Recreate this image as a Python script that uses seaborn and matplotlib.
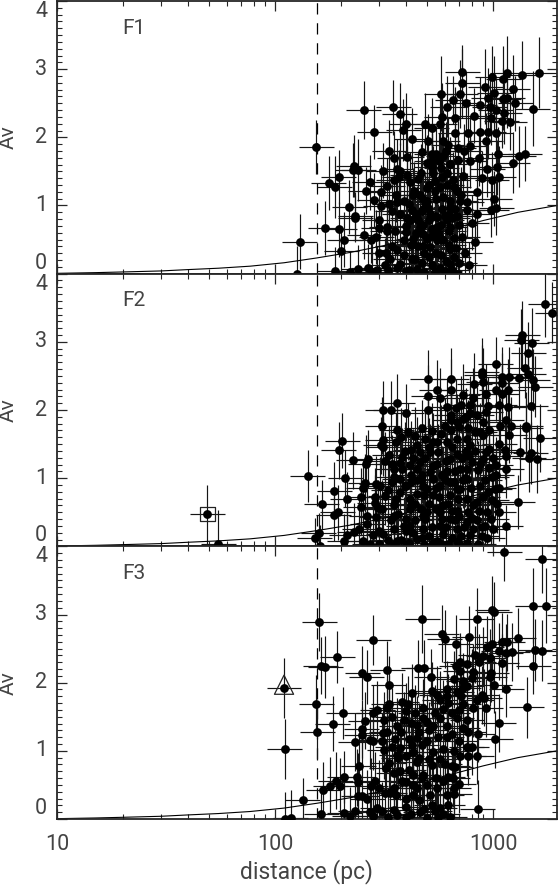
import numpy as np
import pandas as pd
import matplotlib
matplotlib.use("Agg")
import matplotlib.pyplot as plt
from matplotlib.ticker import NullFormatter
import seaborn as sns

# (distance pc, Av, Av error)
f1_points = [(1632,2.95,.52),(1359,2.91,.5),(1161,2.94,.55),(1116,2.86,.48),(994,2.89,.45),(722,2.96,.4),(722,2.79,.5),(921,2.74,.55),
(1231,2.71,.5),(1015,2.65,.55),(707,2.64,.5),(579,2.64,.55),(653,2.55,.35),(752,2.51,.45),(618,2.45,.45),(872,2.48,.4),(951,2.57,.45),
(1116,2.56,.45),(1165,2.58,.45),(1263,2.50,.4),(1521,2.42,.55),(967,2.45,.4),(1029,2.40,.45),(1124,2.35,.45),(348,2.44,.4),(255,2.40,.42),
(373,2.34,.45),(581,2.30,.5),(670,2.29,.45),(822,2.32,.4),(984,2.29,.4),(1096,2.24,.4),(1194,2.22,.4),(401,2.20,.45),(488,2.20,.45),
(524,2.13,.45),(571,2.20,.45),(387,2.11,.45),(286,2.08,.4),(670,2.06,.45),(770,2.07,.45),(872,2.08,.45),(951,2.08,.4),(1029,2.07,.45),
(423,1.98,.45),(501,1.94,.4),(588,1.95,.45),(622,1.89,.4),(925,1.95,.4),(155,1.86,.4),(335,1.80,.45),(694,1.84,.4),(784,1.87,.45),
(471,1.78,.4),(524,1.76,.4),(739,1.80,.4),(403,1.71,.45),(353,1.70,.4),(1403,1.76,.4),(1313,1.72,.45),(1236,1.63,.45),(1051,1.75,.4),
(866,1.69,.4),(230,1.58,.45),(227,1.52,.4),(241,1.52,.45),(313,1.51,.4),(361,1.53,.45),(374,1.51,.4),(524,1.66,.4),(635,1.61,.4),
(694,1.67,.4),(784,1.66,.4),(196,1.42,.4),(176,1.33,.4),(188,1.27,.45),(272,1.34,.4),(372,1.42,.4),(350,1.37,.4),(328,1.29,.4),
(416,1.34,.45),(454,1.39,.4),(532,1.47,.4),(581,1.42,.45),(731,1.44,.4),(887,1.40,.4),(1040,1.56,.4),(941,1.53,.4),(990,1.38,.4),
(1063,1.42,.45),(261,1.22,.35),(305,1.20,.4),(359,1.16,.4),(431,1.15,.4),(463,1.15,.4),(497,1.25,.4),(571,1.27,.4),(682,1.22,.4),
(843,1.20,.45),(286,1.08,.4),(305,.99,.4),(335,1.02,.4),(361,1.05,.4),(390,1.06,.4),(488,1.05,.4),(635,1.07,.4),(707,1.07,.4),
(1015,1.10,.4),(219,.98,.4),(233,.85,.35),(233,.81,.35),(344,.92,.4),(423,.94,.4),(479,.95,.4),(581,.95,.4),(635,.98,.4),(763,.94,.4),
(843,.88,.4),(984,.94,.4),(1036,.96,.4),(687,.85,.4),(301,.78,.4),(404,.81,.4),(454,.78,.4),(551,.83,.4),(613,.78,.4),(798,.75,.4),
(170,.67,.4),(197,.65,.4),(299,.67,.4),(325,.68,.4),(328,.63,.4),(354,.62,.4),(401,.61,.4),(463,.68,.4),(524,.66,.4),(625,.63,.4),
(256,.56,.35),(291,.54,.4),(275,.50,.35),(208,.50,.4),(390,.50,.4),(431,.51,.4),(497,.51,.4),(571,.53,.4),(663,.52,.4),(724,.54,.4),
(828,.46,.45),(130,.47,.4),(201,.33,.35),(323,.31,.4),(361,.35,.4),(431,.44,.4),(479,.41,.4),(635,.36,.4),(741,.30,.4),(337,.22,.4),
(374,.14,.4),(423,.22,.4),(514,.39,.4),(551,.49,.4),(778,.12,.35),(635,.14,.4),(188,.04,.35),(126,0,.4),(221,.03,.3),(241,.07,.35),
(267,.08,.35),(295,.06,.35),(320,.12,.4),(361,.09,.4),(401,.04,.4),(446,.07,.4),(524,.12,.4),(571,.09,.4),(694,0,.4),
(524,1.56,.4),(563,1.66,.4),(542,1.36,.4),(613,1.48,.4),(653,1.38,.4),(497,1.07,.4),(446,.88,.4),(514,.88,.4),(551,.68,.4),(479,.58,.4),
(416,.78,.4),(374,.88,.4),(635,.68,.4)]

f2_points = [(1739,3.56,.49),(1872,3.43,.45),(1364,3.10,.5),(1350,3.03,.45),(1505,2.99,.5),(1450,2.84,.45),(1029,2.67,.4),(1396,2.62,.45),
(1450,2.53,.45),(1521,2.44,.45),(1560,2.34,.45),(887,2.56,.5),(887,2.51,.45),(903,2.41,.5),(822,2.38,.45),(1105,2.48,.45),(1185,2.48,.45),
(1313,2.47,.45),(1096,2.39,.45),(501,2.46,.42),(643,2.46,.45),(639,2.30,.45),(551,2.29,.45),(1032,2.29,.45),(1174,2.30,.45),(505,2.21,.45),
(571,2.17,.45),(727,2.22,.45),(807,2.17,.45),(928,2.23,.45),(1094,2.24,.45),(364,2.11,.42),(312,2.00,.42),(339,2.00,.42),(401,1.96,.42),
(505,2.00,.42),(613,2.05,.42),(680,2.03,.42),(712,2.08,.42),(784,2.08,.42),(953,2.06,.42),(1071,2.08,.42),(1174,2.04,.42),(1489,2.06,.45),
(643,1.92,.42),(784,1.95,.42),(928,1.97,.42),(310,1.77,.42),(361,1.71,.42),(378,1.61,.42),(407,1.68,.42),(471,1.73,.42),(524,1.69,.42),
(600,1.76,.42),(685,1.82,.42),(770,1.73,.42),(872,1.68,.42),(1077,1.76,.42),(1204,1.77,.42),(1152,1.85,.42),(1412,1.76,.5),(1412,1.73,.45),
(1644,1.59,.5),(1185,1.64,.42),(312,1.56,.42),(204,1.55,.4),(196,1.41,.42),(306,1.48,.42),(314,1.45,.42),(359,1.53,.42),(335,1.34,.42),
(419,1.42,.42),(463,1.38,.42),(532,1.53,.42),(613,1.53,.42),(757,1.58,.42),(903,1.63,.42),(1067,1.50,.42),(1137,1.41,.42),(1332,1.38,.42),
(1492,1.37,.45),(1462,1.30,.5),(1590,1.28,.5),(1145,1.33,.42),(228,1.26,.42),(261,1.21,.42),(268,1.28,.42),(344,1.21,.42),(381,1.31,.42),
(463,1.24,.42),(551,1.21,.42),(682,1.36,.42),(754,1.40,.42),(800,1.24,.42),(872,1.21,.42),(1032,1.19,.42),(1151,1.13,.42),(350,1.14,.42),
(381,1.14,.42),(446,1.14,.42),(514,1.09,.42),(613,1.11,.42),(707,1.14,.42),(1036,1.05,.42),(141,1.03,.38),(210,1.00,.42),(260,.93,.42),
(254,.86,.42),(292,.91,.42),(303,.89,.42),(344,.95,.42),(374,.99,.42),(446,.97,.42),(532,.99,.42),(635,.94,.42),(757,.99,.42),(919,.97,.42),
(1022,.84,.42),(1066,.86,.42),(187,.81,.42),(214,.69,.4),(164,.62,.36),(249,.73,.42),(287,.73,.42),(320,.74,.42),(374,.79,.42),(446,.77,.42),
(532,.75,.42),(635,.75,.42),(757,.70,.42),(843,.65,.42),(1042,.62,.42),(1296,.65,.4),(247,.58,.42),(287,.63,.42),(297,.56,.42),(194,.50,.4),
(186,.46,.38),(263,.45,.42),(292,.43,.42),(350,.60,.42),(416,.55,.42),(497,.50,.42),(592,.60,.42),(682,.52,.42),(770,.50,.42),(941,.50,.42),
(1063,.50,.42),(843,.38,.42),(919,.30,.42),(1143,.30,.3),(265,.33,.42),(244,.26,.42),(231,.21,.42),(159,.19,.3),(152,.12,.3),(213,.16,.42),
(208,.08,.4),(283,.17,.42),(314,.18,.42),(350,.25,.42),(401,.23,.42),(479,.25,.42),(571,.30,.42),(682,.25,.42),(784,.16,.42),(254,.08,.42),
(272,.03,.42),(361,.08,.42),(446,.11,.42),(551,.08,.42),(682,.08,.42),(855,.03,.42),(161,.01,.3),(55,.04,.5),(49,.47,.43),
(401,.89,.42),(479,.89,.42),(571,.89,.42),(682,.84,.42),(416,.70,.42),(497,.84,.42),(592,1.04,.42),(707,.84,.42),(401,.40,.42),(479,.45,.42),
(571,.50,.42),(350,.45,.42),(416,.30,.42),(635,.40,.42),(757,.35,.42),(514,1.38,.42),(635,1.28,.42),(757,1.14,.42),(416,1.19,.42),
(903,1.28,.42),(960,1.43,.42),(682,1.58,.42),(551,1.53,.42),(784,1.48,.42),(903,1.82,.42),(843,1.92,.42),(731,1.87,.42)]

f3_points = [(1127,3.92,.43),(1684,3.82,.5),(1521,3.13,.55),(1744,3.13,.55),(989,3.06,.5),(1013,3.03,.45),(473,2.94,.5),(843,2.94,.45),
(160,2.89,.42),(581,2.72,.42),(600,2.64,.42),(778,2.67,.45),(283,2.63,.37),(1305,2.65,.45),(676,2.57,.42),(937,2.53,.45),(990,2.56,.42),
(1094,2.60,.42),(1165,2.59,.42),(1558,2.48,.45),(1684,2.47,.45),(1063,2.46,.42),(1145,2.44,.42),(1228,2.45,.42),(830,2.41,.42),(193,2.38,.38),
(903,2.39,.42),(967,2.36,.42),(707,2.31,.42),(1096,2.29,.42),(1530,2.25,.42),(162,2.25,.42),(170,2.23,.45),(328,2.19,.42),(454,2.21,.42),
(480,2.21,.42),(251,2.14,.4),(263,2.08,.4),(520,2.08,.42),(707,2.17,.42),(807,2.15,.42),(984,2.14,.42),(800,2.07,.42),(967,2.08,.42),
(332,1.97,.42),(731,2.02,.42),(1012,1.97,.42),(110,1.92,.44),(1152,1.91,.42),(427,1.85,.42),(524,1.88,.42),(618,1.90,.42),(682,1.87,.42),
(731,1.92,.42),(551,1.82,.42),(613,1.80,.42),(887,1.82,.42),(912,1.78,.42),(843,1.74,.42),(155,1.69,.42),(332,1.69,.42),(382,1.72,.42),
(325,1.63,.42),(294,1.60,.42),(282,1.55,.42),(401,1.58,.42),(407,1.68,.42),(479,1.63,.42),(731,1.68,.42),(810,1.63,.42),(925,1.63,.42),
(1431,1.64,.45),(205,1.55,.38),(260,1.44,.42),(317,1.45,.42),(184,1.40,.4),(1063,1.41,.42),(419,1.41,.42),(479,1.48,.42),(571,1.48,.42),
(682,1.48,.42),(446,1.38,.42),(532,1.36,.42),(613,1.36,.42),(727,1.34,.42),(361,1.36,.42),(250,1.32,.42),(156,1.28,.42),(312,1.26,.42),
(325,1.28,.42),(250,1.23,.42),(272,1.16,.42),(283,1.14,.42),(308,1.14,.42),(357,1.18,.42),(446,1.19,.42),(560,1.20,.42),(613,1.20,.42),
(770,1.28,.42),(851,1.25,.42),(1026,1.17,.42),(234,1.13,.42),(317,1.01,.42),(374,1.04,.42),(423,1.09,.42),(497,1.14,.42),(592,1.03,.42),
(663,1.00,.42),(757,1.05,.42),(800,1.06,.42),(361,.94,.42),(368,.89,.42),(431,.99,.42),(532,.99,.42),(707,.92,.42),(770,.92,.42),(843,.93,.42),
(332,.82,.42),(242,.78,.42),(323,.75,.42),(670,.77,.42),(446,.84,.42),(524,.79,.42),(374,.70,.42),(431,.65,.42),(479,.65,.42),(208,.62,.38),
(238,.61,.42),(241,.55,.42),(190,.56,.42),(198,.48,.42),(179,.49,.42),(166,.42,.42),(287,.56,.42),(275,.48,.42),(382,.56,.42),(350,.45,.42),
(592,.56,.42),(652,.60,.42),(697,.51,.42),(497,.50,.42),(551,.45,.42),(446,.45,.42),(320,.38,.42),(337,.38,.42),(241,.34,.42),(250,.34,.42),
(265,.30,.42),(431,.35,.42),(514,.35,.42),(613,.35,.42),(663,.36,.42),(134,.28,.32),(295,.16,.42),(272,.11,.42),(208,.09,.42),(233,.12,.42),
(163,.07,.42),(118,.02,.4),(111,0,.4),(851,.15,.42),(350,.13,.42),(401,.18,.42),(524,.21,.42),(622,.21,.42),(571,.16,.42),(463,.11,.42),
(361,.06,.42),(635,.03,.42),(283,.05,.42),(220,.05,.42),(111,1.03,.44)]

# dense cores: points there merge, so these are estimates
f1_core = [(405,1.45),(435,1.22),(468,1.48),(500,1.62),(540,1.22),(580,1.55),(615,1.30),(660,1.27),(715,1.15),(760,1.05),(410,1.02),(440,.82),
(470,.92),(505,.97),(545,1.10),(590,1.12),(625,.88),(670,.95),(400,.70),(445,.60),(475,.72),(510,.78),(540,.85),(575,.72),(605,.85),(650,.82),
(700,.72),(420,.42),(455,.40),(485,.30),(525,.55),(560,.60),(590,.50),(625,.42),(680,.38),(390,.28),(440,.22),(470,.15),(510,.25),(545,.30),
(580,.28),(610,.18),(660,.25),(700,.15),(410,.05),(480,.02),(540,.03),(600,.04),(650,.05),(345,.40),(300,.30),(330,.05),(280,.02),(545,1.75),
(590,1.72),(610,1.80),(510,1.30),(475,1.10)]

f2_core = [(320,1.25),(350,1.02),(375,1.22),(395,1.40),(420,1.05),(430,1.30),(450,1.48),(470,1.05),(490,1.30),(510,1.46),(530,1.18),(560,1.38),
(585,1.05),(610,1.25),(650,1.45),(670,1.10),(720,1.30),(745,1.00),(780,1.33),(830,1.40),(850,1.12),(930,1.38),(960,1.15),(985,1.02),
(330,.82),(360,.70),(395,.88),(420,.95),(440,.62),(465,.98),(480,.75),(510,.62),(545,.85),(565,.72),(600,.97),(620,.62),(660,.95),(690,.70),
(730,.98),(790,.85),(810,.60),(870,.88),(900,.72),(950,.80),(990,.68),(310,.55),(340,.38),(365,.48),(390,.30),(420,.60),(440,.38),(465,.55),
(490,.40),(525,.28),(550,.55),(585,.40),(610,.28),(650,.52),(670,.38),(700,.45),(740,.28),(800,.42),(860,.52),(890,.28),(980,.40),(1000,.25),
(300,.22),(330,.10),(380,.10),(410,.05),(430,.20),(470,.12),(510,.15),(530,.05),(590,.18),(620,.03),(650,.12),(710,.15),(760,.05),(810,.25),
(890,.15),(940,.12),(300,.03),(350,.02),(400,.02),(480,.02),(580,.03),(700,.03),(440,1.62),(490,1.58),(575,1.65),(640,1.70),(700,1.75),
(830,1.68),(960,1.70),(1000,1.30),(640,1.85),(750,1.90)]

f3_core = [(345,1.50),(390,1.45),(440,1.55),(460,1.28),(500,1.42),(540,1.55),(590,1.62),(650,1.55),(700,1.60),(760,1.45),(380,1.28),(410,1.18),
(470,1.08),(510,1.30),(650,1.25),(700,1.15),(345,1.05),(400,.92),(460,.90),(510,.88),(570,.88),(600,.80),(650,.78),(410,.72),(350,.68),(400,.55),
(430,.50),(470,.60),(550,.60),(620,.62),(660,.45),(300,.45),(360,.35),(400,.30),(460,.28),(480,.15),(540,.12),(590,.08),(310,.12),(420,.08),
(500,.02),(560,.03),(400,.03),(330,.03),(710,1.80),(760,1.95),(660,2.05),(680,2.25),(760,2.28),(860,2.30),(620,1.70),(570,1.75)]

panel_names = ["F1", "F2", "F3"]
panel_points = [f1_points, f2_points, f3_points]
panel_core = [f1_core, f2_core, f3_core]
core_err = 0.42
x_err_dex = 0.08
dashed_distance = 156
curve_d = [10, 15, 20, 30, 40, 55, 77, 110, 155, 220, 314, 450, 600, 903, 1300, 1966]
curve_av = [.005, .015, .025, .04, .06, .08, .11, .16, .23, .31, .41, .53, .63, .78, .90, 1.0]
square_point = (49, .47)
triangle_point = (110, 1.97)
x_ticks = [10, 100, 1000]
x_tick_labels = ["10", "100", "1000"]
y_ticks = [0, 1, 2, 3, 4]

sns.set_style("ticks")
plt.rcParams["font.family"] = ["Roboto", "DejaVu Sans"]
text_col = "#444444"

fig, axes = plt.subplots(3, 1, figsize=(5.59, 8.86), dpi=100, sharex=True)
fig.subplots_adjust(left=57/559, right=557/559, top=1-1/886, bottom=1-819/886, hspace=0)

for ax, name, pts, core in zip(axes, panel_names, panel_points, panel_core):
    df = pd.DataFrame(pts + [(d, a, core_err) for d, a in core], columns=["dist", "av", "err"])
    ax.set_xscale("log")
    lo = df["dist"] - df["dist"] / 10**x_err_dex
    hi = df["dist"] * 10**x_err_dex - df["dist"]
    ax.errorbar(df["dist"], df["av"], xerr=[lo, hi], yerr=df["err"], fmt="none",
                ecolor="#151515", elinewidth=0.85, zorder=2)
    sns.scatterplot(data=df, x="dist", y="av", color="black", s=40, linewidth=0, ax=ax, zorder=3)
    ax.plot(curve_d, curve_av, color="black", lw=0.8, zorder=2)
    ax.axvline(dashed_distance, color="black", lw=0.9, ls=(0, (9, 7)), zorder=1)

    ax.set_xlim(10, 1966)
    ax.set_ylim(0, 4)
    ax.set_xlabel("")
    ax.set_ylabel("Av", fontsize=15, color=text_col, labelpad=0)
    ax.yaxis.set_label_coords(-0.078, 0.5)
    ax.set_xticks(x_ticks)
    ax.set_xticklabels(x_tick_labels)
    ax.xaxis.set_minor_formatter(NullFormatter())
    ax.set_yticks(y_ticks)
    ax.set_yticks(np.arange(0, 4.01, 0.1), minor=True)
    ax.tick_params(which="major", direction="in", length=7.5, width=0.9, top=True, right=True,
                   labelsize=15.5, labelcolor=text_col, pad=7)
    ax.tick_params(which="minor", direction="in", length=3.7, width=0.8, top=True, right=True)
    for lab, v in zip(ax.get_yticklabels(), y_ticks):
        lab.set_va("bottom" if v == 0 else "top" if v == 4 else "center")
    for sp in ax.spines.values():
        sp.set_linewidth(1.3)
    ax.text(20, 3.6, name, fontsize=15, color=text_col, va="center")

axes[1].scatter(*square_point, marker="s", s=105, facecolor="none", edgecolor="#222222", lw=0.9, zorder=4)
axes[2].scatter(*triangle_point, marker="^", s=190, facecolor="none", edgecolor="#222222", lw=0.9, zorder=4)
axes[2].set_xlabel("distance (pc)", fontsize=16.5, color=text_col, labelpad=3)
axes[2].tick_params(axis="x", which="major", pad=11)

fig.savefig("out.png", dpi=100)
